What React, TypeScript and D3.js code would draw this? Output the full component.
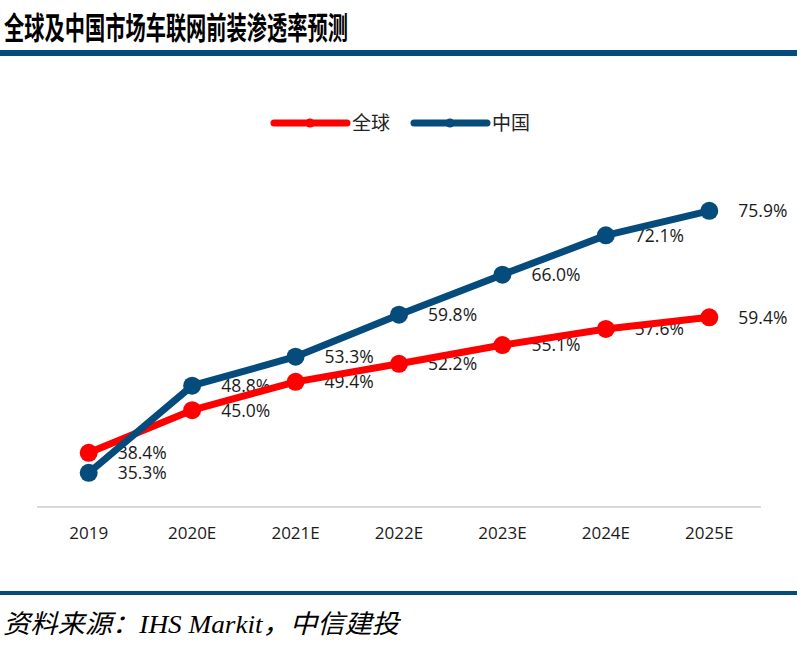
// @ts-nocheck
import React from "react";
import { scaleBand, scaleLinear, line } from "d3";

const years = ["2019", "2020E", "2021E", "2022E", "2023E", "2024E", "2025E"];
const globalRate = [38.4, 45.0, 49.4, 52.2, 55.1, 57.6, 59.4];
const chinaRate = [35.3, 48.8, 53.3, 59.8, 66.0, 72.1, 75.9];

const W = 797;
const H = 651;
const BLUE = "#054b7c";
const RED = "#ff0000";
const labelFont = "'Open Sans', 'Noto Sans', sans-serif";

export default function App() {
  const x = scaleBand().domain(years).range([37, 761]);
  const y = scaleLinear().domain([30, 80]).range([507, 184.4]);
  const cx = (d: string) => x(d)! + x.bandwidth() / 2;

  const path = line<number>()
    .x((_, i) => cx(years[i]))
    .y((v) => y(v));

  const series = [
    { name: "全球", values: globalRate, color: RED },
    { name: "中国", values: chinaRate, color: BLUE },
  ];

  return (
    <svg width={W} height={H} style={{ position: "absolute", left: 0, top: 0, background: "#fff" }}>
      {/* title */}
      <text
        x={4}
        y={39}
        fontSize={31}
        fontWeight="bold"
        fontFamily="'Noto Sans CJK SC', sans-serif"
        textLength={344}
        lengthAdjust="spacingAndGlyphs"
        fill="#000"
      >
        全球及中国市场车联网前装渗透率预测
      </text>
      <rect x={0} y={50} width={W} height={6} fill={BLUE} />

      {/* legend */}
      {series.map((s, i) => {
        const lx = 274 + i * 140;
        return (
          <g key={s.name}>
            <line x1={lx} x2={lx + 73} y1={123} y2={123} stroke={s.color} strokeWidth={7} strokeLinecap="round" />
            <circle cx={lx + 36} cy={123} r={4.5} fill={s.color} />
            <text x={lx + 78} y={130} fontSize={19} fontFamily="'Noto Sans CJK SC', sans-serif" fill="#222">
              {s.name}
            </text>
          </g>
        );
      })}

      {/* axis */}
      <line x1={37} x2={761} y1={507} y2={507} stroke="#d9d9d9" strokeWidth={2} />
      {years.map((d) => (
        <text key={d} x={cx(d)} y={539} textAnchor="middle" fontSize={17} fontFamily={labelFont} fill="#1a1a1a">
          {d}
        </text>
      ))}

      {/* data labels */}
      {series.map((s) =>
        s.values.map((v, i) => (
          <text
            key={s.name + i}
            x={cx(years[i]) + 29}
            y={y(v)}
            dy="0.36em"
            fontSize={17.5}
            fontFamily={labelFont}
            fill="#1a1a1a"
          >
            {v.toFixed(1)}%
          </text>
        ))
      )}

      {/* lines */}
      {series.map((s) => (
        <g key={s.name}>
          <path d={path(s.values)!} fill="none" stroke={s.color} strokeWidth={7} strokeLinejoin="round" />
          {s.values.map((v, i) => (
            <circle key={i} cx={cx(years[i])} cy={y(v)} r={9} fill={s.color} />
          ))}
        </g>
      ))}

      {/* footer */}
      <rect x={0} y={591} width={W} height={4} fill={BLUE} />
      <text
        x={3}
        y={633}
        fontSize={26}
        fontStyle="italic"
        fontFamily="'Liberation Serif', 'Noto Sans CJK SC', serif"
        textLength={396}
        lengthAdjust="spacingAndGlyphs"
        fill="#000"
      >
        资料来源：IHS Markit，中信建投
      </text>
    </svg>
  );
}
